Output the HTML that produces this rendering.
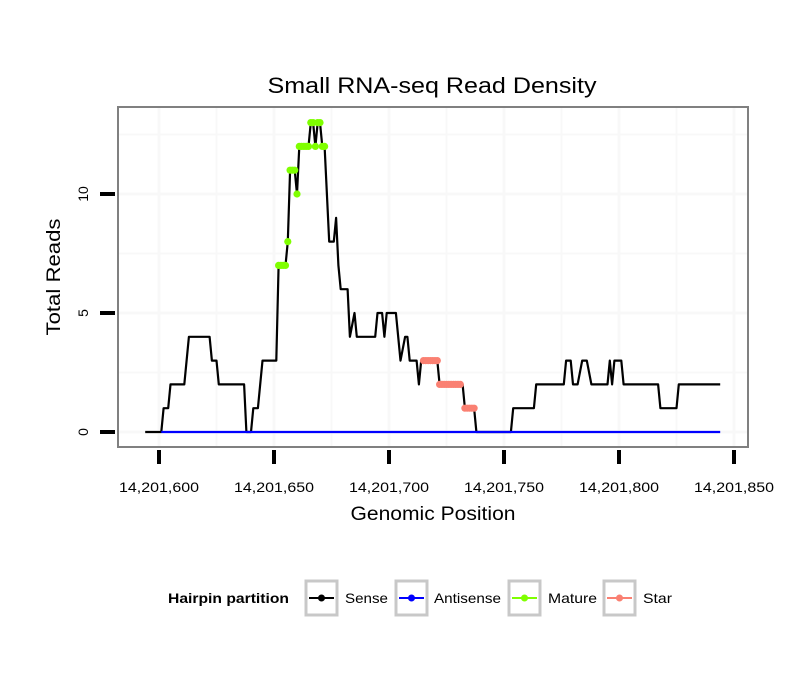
<!DOCTYPE html>
<html><head><meta charset="utf-8"><style>
body{margin:0;background:#fff;}
svg text{font-family:"Liberation Sans",Arial,sans-serif;}
</style></head><body>
<svg id="chart" width="810" height="690" xmlns="http://www.w3.org/2000/svg">
<rect width="810" height="690" fill="#fff"/>
<text x="432" y="93" font-size="22" text-anchor="middle" textLength="329" lengthAdjust="spacingAndGlyphs">Small RNA-seq Read Density</text>
<g id="grid"></g>
<g id="series"></g>
<rect x="118" y="107" width="630" height="340" fill="none" stroke="#808080" stroke-width="2"/>
<g id="axes"></g>
<text transform="translate(60,277) rotate(-90)" font-size="19" text-anchor="middle" textLength="117" lengthAdjust="spacingAndGlyphs">Total Reads</text>
<text x="433" y="520" font-size="19" text-anchor="middle" textLength="165" lengthAdjust="spacingAndGlyphs">Genomic Position</text>
<g>
<text x="168" y="603" font-size="14" font-weight="bold" textLength="121" lengthAdjust="spacingAndGlyphs">Hairpin partition</text>
<g><rect x="306" y="581" width="31" height="34" fill="#fff" stroke="#c8c8c8" stroke-width="3"/><line x1="309" y1="598" x2="334" y2="598" stroke="#000" stroke-width="2"/><circle cx="321.5" cy="598" r="3.5" fill="#000"/><text x="345" y="603" font-size="14" textLength="43" lengthAdjust="spacingAndGlyphs">Sense</text></g>
<g><rect x="396" y="581" width="31" height="34" fill="#fff" stroke="#c8c8c8" stroke-width="3"/><line x1="399" y1="598" x2="424" y2="598" stroke="#0000ff" stroke-width="2"/><circle cx="411.5" cy="598" r="3.5" fill="#0000ff"/><text x="434" y="603" font-size="14" textLength="67" lengthAdjust="spacingAndGlyphs">Antisense</text></g>
<g><rect x="509" y="581" width="31" height="34" fill="#fff" stroke="#c8c8c8" stroke-width="3"/><line x1="512" y1="598" x2="537" y2="598" stroke="#7fff00" stroke-width="2"/><circle cx="524.5" cy="598" r="3.5" fill="#7fff00"/><text x="548" y="603" font-size="14" textLength="49" lengthAdjust="spacingAndGlyphs">Mature</text></g>
<g><rect x="604" y="581" width="31" height="34" fill="#fff" stroke="#c8c8c8" stroke-width="3"/><line x1="607" y1="598" x2="632" y2="598" stroke="#fa8072" stroke-width="2"/><circle cx="619.5" cy="598" r="3.5" fill="#fa8072"/><text x="643" y="603" font-size="14" textLength="29" lengthAdjust="spacingAndGlyphs">Star</text></g>
</g>
</svg>
<script>
const xTicks=[14201600,14201650,14201700,14201750,14201800,14201850];
const xTickLabels=["14,201,600","14,201,650","14,201,700","14,201,750","14,201,800","14,201,850"];
const yTicks=[0,5,10];
const yTickLabels=["0","5","10"];
const senseOffsets=[594,601,602,604,605,611,613,622,623,625,626,637,638,640,641,643,645,651,652,655,656,657,659,660,661,665,666,667,668,669,670,671,672,674,676,677,678,679,681,682,683,685,686,694,695,697,698,699,703,705,707,708,709,712,713,714,721,722,732,733,737,738,753,754,763,764,776,777,779,780,782,784,786,788,795,796,797,798,801,802,817,818,825,826,844];
const senseValues=[0,0,1,1,2,2,4,4,3,3,2,2,0,0,1,1,3,3,7,7,8,11,11,10,12,12,13,13,12,13,13,12,12,8,8,9,7,6,6,6,4,5,4,4,5,5,4,5,5,3,4,4,3,3,2,3,3,2,2,1,1,0,0,1,1,2,2,3,3,2,2,3,3,2,2,3,2,3,3,2,2,1,1,2,2];
const antisenseOffsets=[601,844];
const antisenseValues=[0,0];
const matureOffsets=[652,653,654,655,656,657,658,659,660,661,662,663,664,665,666,667,668,669,670,671,672];
const matureValues=[7,7,7,7,8,11,11,11,10,12,12,12,12,12,13,13,12,13,13,12,12];
const starOffsets=[715,716,717,718,719,720,721,722,723,724,725,726,727,728,729,730,731,733,734,735,736,737];
const starValues=[3,3,3,3,3,3,3,2,2,2,2,2,2,2,2,2,2,1,1,1,1,1];
const BASE=14201000;
const NS="http://www.w3.org/2000/svg";
function xs(p){return 159+(p-14201600)*2.3;}
function ys(v){return 432-v*23.8;}
function mk(tag,attrs,parent){const e=document.createElementNS(NS,tag);for(const k in attrs)e.setAttribute(k,attrs[k]);parent.appendChild(e);return e;}
const grid=document.getElementById('grid'),ser=document.getElementById('series'),axes=document.getElementById('axes');
mk('rect',{x:118,y:107,width:630,height:340,fill:'#fff'},grid);
for(let v=-25;v<=300;v+=25){const p=14201600+v;const x=xs(p);if(x<119||x>747)continue;const l=mk('line',{x1:x,x2:x,y1:108,y2:446,stroke:'#f8f8f8','stroke-width':v%50===0?3:2},grid);}
for(let v=0;v<=12.5;v+=2.5){const y=ys(v);const l=mk('line',{x1:119,x2:747,y1:y,y2:y,stroke:'#f8f8f8','stroke-width':v%5===0?3:2},grid);}
function line(offs,vals,color,name){const pts=offs.map((o,i)=>xs(BASE+o)+','+ys(vals[i])).join(' ');const p=mk('polyline',{points:pts,fill:'none',stroke:color,'stroke-width':2.2,'stroke-linejoin':'round'},ser);}
function pts(offs,vals,color,name){offs.forEach((o,i)=>{const c=mk('circle',{cx:xs(BASE+o),cy:ys(vals[i]),r:3.6,fill:color},ser);});}
line(senseOffsets,senseValues,'#000','sense-line');
line(antisenseOffsets,antisenseValues,'#0000ff','antisense-line');
pts(matureOffsets,matureValues,'#7fff00','mature-point');
pts(starOffsets,starValues,'#fa8072','star-point');
xTicks.forEach((t,i)=>{const x=xs(t);const k=mk('line',{x1:x,x2:x,y1:450,y2:464,stroke:'#000','stroke-width':4},axes);const tx=mk('text',{x:x,y:492,'font-size':14,'text-anchor':'middle',textLength:80,lengthAdjust:'spacingAndGlyphs'},axes);tx.textContent=xTickLabels[i];});
yTicks.forEach((t,i)=>{const y=ys(t);const k=mk('line',{x1:100,x2:115,y1:y,y2:y,stroke:'#000','stroke-width':4},axes);const tx=mk('text',{transform:'translate(88,'+y+') rotate(-90)','font-size':14,'text-anchor':'middle'},axes);tx.textContent=yTickLabels[i];});
</script>
</body></html>
